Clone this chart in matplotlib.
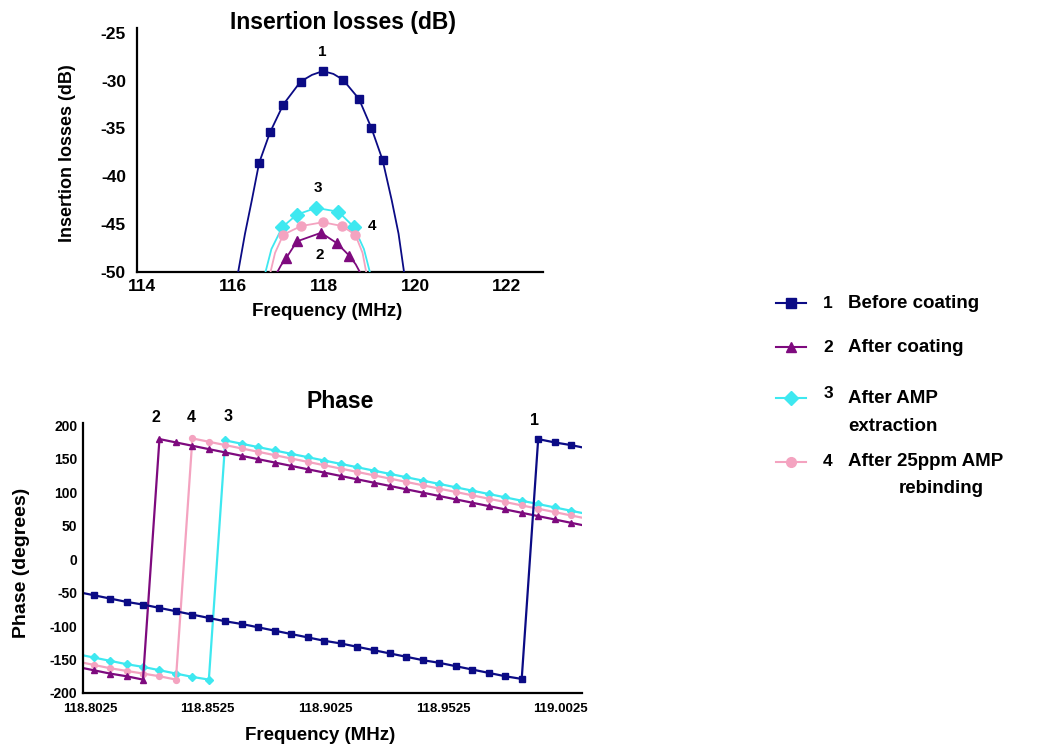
import matplotlib
matplotlib.use("Agg")
import matplotlib.pyplot as plt
from matplotlib.lines import Line2D

plt.rcParams['font.family'] = ['Liberation Sans', 'DejaVu Sans']
plt.rcParams['font.weight'] = 'bold'
plt.rcParams['axes.unicode_minus'] = False

# --- insertion losses (top chart) ---
il_freq_1 = [116.12, 116.27, 116.42, 116.58, 116.82, 117.11, 117.49, 117.74, 117.98,
             118.21, 118.42, 118.77, 119.04, 119.29, 119.49, 119.64, 119.76]
il_1 = [-50, -46, -42.5, -38.6, -35.4, -32.5, -30.1, -29.4, -29.0,
        -29.3, -29.9, -31.9, -34.9, -38.3, -42.5, -46, -50]
il_marks_1 = [3, 4, 5, 6, 8, 10, 11, 12, 13]

il_freq_2 = [116.98, 117.06, 117.18, 117.41, 117.94, 118.29, 118.56, 118.70, 118.79]
il_2 = [-50, -49.3, -48.5, -46.8, -45.9, -47.0, -48.3, -49.2, -50]

il_freq_3 = [116.72, 116.85, 117.09, 117.41, 117.83, 118.32, 118.66, 118.88, 119.01]
il_3 = [-50, -47.6, -45.3, -44.0, -43.3, -43.7, -45.3, -47.6, -50]

il_freq_4 = [116.83, 116.93, 117.11, 117.50, 117.98, 118.40, 118.69, 118.85, 118.93]
il_4 = [-50, -48.0, -46.1, -45.2, -44.8, -45.2, -46.1, -48.0, -50]

# --- phase (bottom chart) ---
ph_freq = [118.797, 118.804, 118.811, 118.818, 118.825, 118.832, 118.839, 118.846,
           118.853, 118.860, 118.867, 118.874, 118.881, 118.888, 118.895, 118.902,
           118.909, 118.916, 118.923, 118.930, 118.937, 118.944, 118.951, 118.958,
           118.965, 118.972, 118.979, 118.986, 118.993, 119.000, 119.007, 119.014]
ph_1 = [-49, -54, -59, -64, -68, -73, -78, -83, -88, -93, -97, -102, -107, -112, -117, -122,
        -126, -131, -136, -141, -146, -151, -155, -160, -165, -170, -175, -179, 179, 174, 170, 165]
ph_2 = [-161, -166, -171, -175, -180, 179, 174, 169, 164, 159, 154, 149, 144, 139, 134, 129,
        124, 119, 114, 109, 104, 99, 94, 89, 84, 79, 74, 69, 64, 59, 54, 49]
ph_3 = [-142, -147, -152, -157, -161, -166, -171, -176, -180, 177, 172, 167, 162, 157, 152, 147,
        142, 137, 132, 127, 122, 117, 112, 107, 102, 97, 92, 87, 82, 77, 72, 67]
ph_4 = [-153, -158, -163, -167, -171, -175, -180, 180, 175, 170, 165, 160, 155, 150, 145, 140,
        135, 130, 125, 120, 115, 110, 105, 100, 95, 90, 85, 80, 75, 70, 65, 60]

colors = ['#0b0b85', '#7e0a7e', '#3ee8f0', '#f4a3c0']
markers = ['s', '^', 'D', 'o']

W, H = 1039, 749
fig = plt.figure(figsize=(W / 100, H / 100), dpi=100)


def fx(x):
    return x / W


def fy(y):
    return 1 - y / H


def style_axes(ax):
    for side in ['top', 'right']:
        ax.spines[side].set_visible(False)
    for side in ['left', 'bottom']:
        ax.spines[side].set_linewidth(1.6)
        ax.spines[side].set_color('black')
    ax.tick_params(length=0)
    for lab in ax.get_xticklabels() + ax.get_yticklabels():
        lab.set_fontweight('bold')


# top chart
ax1 = fig.add_axes([fx(137), fy(272), fx(543 - 137), (272 - 28) / H])
ax1.plot(il_freq_3, il_3, color=colors[2], lw=1.3, marker=markers[2], ms=7,
         markevery=slice(2, 7), zorder=3)
ax1.plot(il_freq_4, il_4, color=colors[3], lw=1.3, marker=markers[3], ms=6.5,
         markevery=slice(2, 7), zorder=4)
ax1.plot(il_freq_2, il_2, color=colors[1], lw=1.3, marker=markers[1], ms=7.5,
         markevery=slice(2, 7), zorder=5)
ax1.plot(il_freq_1, il_1, color=colors[0], lw=1.3, marker=markers[0], ms=6,
         markevery=il_marks_1, zorder=6)
ax1.set_xlim(113.9, 122.81)
ax1.set_ylim(-50, -24.5)
ax1.set_xticks([114, 116, 118, 120, 122])
ax1.set_yticks([-50, -45, -40, -35, -30, -25])
style_axes(ax1)
ax1.tick_params(labelsize=12.5)
ax1.tick_params(axis='y', pad=8)
ax1.tick_params(axis='x', pad=5)
for s, (xv, yv) in zip(['1', '3', '4', '2'],
                       [(117.96, -27.0), (117.87, -41.2), (119.06, -45.2), (117.92, -48.2)]):
    ax1.text(xv, yv, s, ha='center', va='center', fontsize=11, fontweight='bold')

fig.text(fx(343), fy(22), 'Insertion losses (dB)', ha='center', va='center',
         fontsize=16.5, fontweight='bold')
fig.text(fx(327), fy(312), 'Frequency (MHz)', ha='center', va='center',
         fontsize=13.5, fontweight='bold')
fig.text(fx(67), fy(153), 'Insertion losses (dB)', ha='center', va='center',
         rotation=90, fontsize=13, fontweight='bold')

# bottom chart
ax2 = fig.add_axes([fx(83), fy(693), fx(581.7 - 83), (693 - 423) / H])
for vals, c, m in zip([ph_3, ph_4, ph_2, ph_1], [colors[2], colors[3], colors[1], colors[0]],
                      [markers[2], markers[3], markers[1], markers[0]]):
    ax2.plot(ph_freq, vals, color=c, lw=1.6, marker=m, ms=4.2)
ax2.set_xlim(118.7995, 119.0115)
ax2.set_ylim(-200, 203)
ax2.set_xticks([118.8025, 118.8525, 118.9025, 118.9525, 119.0025])
ax2.set_xticklabels(['118.8025', '118.8525', '118.9025', '118.9525', '119.0025'])
ax2.set_yticks([-200, -150, -100, -50, 0, 50, 100, 150, 200])
style_axes(ax2)
ax2.tick_params(axis='y', pad=4, labelsize=10)
ax2.tick_params(axis='x', pad=7, labelsize=9.5)
for s, (xv, yv) in zip(['2', '4', '3', '1'],
                       [(118.8306, 211), (118.8454, 211), (118.8612, 213), (118.9913, 207)]):
    ax2.text(xv, yv, s, ha='center', va='center', fontsize=11.5, fontweight='bold', clip_on=False)

fig.text(fx(340), fy(402), 'Phase', ha='center', va='center', fontsize=16.5, fontweight='bold')
fig.text(fx(320), fy(735), 'Frequency (MHz)', ha='center', va='center',
         fontsize=13.5, fontweight='bold')
fig.text(fx(22), fy(563), 'Phase (degrees)', ha='center', va='center',
         rotation=90, fontsize=14, fontweight='bold')

# legend drawn by hand
leg_y = [303, 347, 398, 462]
num_y = [303, 347, 393, 462]
for i in range(4):
    fig.lines.append(Line2D([fx(776), fx(806)], [fy(leg_y[i]), fy(leg_y[i])],
                            transform=fig.transFigure, color=colors[i], lw=1.5))
    fig.lines.append(Line2D([fx(791)], [fy(leg_y[i])], transform=fig.transFigure,
                            color=colors[i], marker=markers[i], ms=7, lw=0))
    fig.text(fx(828), fy(num_y[i]), str(i + 1), ha='center', va='center',
             fontsize=12.5, fontweight='bold')
fig.text(fx(848), fy(303), 'Before coating', ha='left', va='center', fontsize=13.5, fontweight='bold')
fig.text(fx(848), fy(347), 'After coating', ha='left', va='center', fontsize=13.5, fontweight='bold')
fig.text(fx(848), fy(398), 'After AMP', ha='left', va='center', fontsize=13.5, fontweight='bold')
fig.text(fx(848), fy(426), 'extraction', ha='left', va='center', fontsize=13.5, fontweight='bold')
fig.text(fx(848), fy(462), 'After 25ppm AMP', ha='left', va='center', fontsize=13.5, fontweight='bold')
fig.text(fx(941), fy(488), 'rebinding', ha='center', va='center', fontsize=13.5, fontweight='bold')

fig.savefig('out.png', dpi=100)
